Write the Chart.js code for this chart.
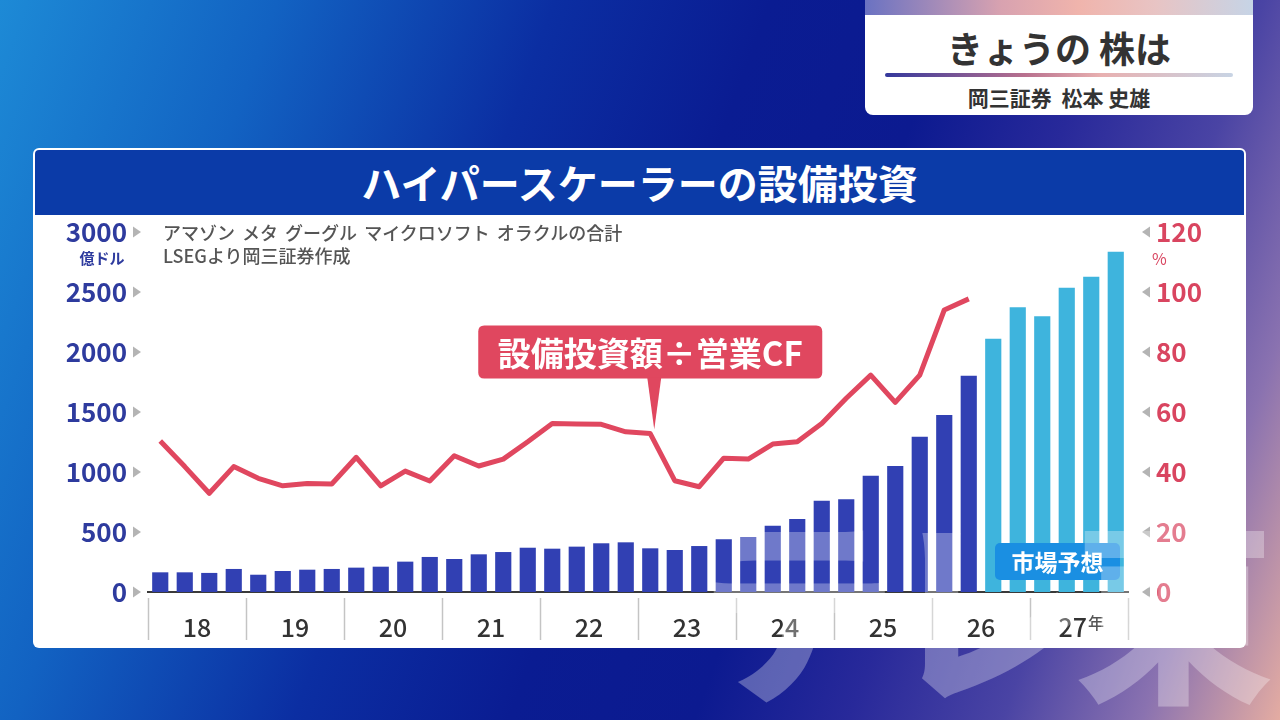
<!DOCTYPE html>
<html><head><meta charset="utf-8">
<script src="https://cdn.jsdelivr.net/npm/chart.js@4.4.1/dist/chart.umd.min.js"></script>
<style>
html,body{margin:0;padding:0;width:1280px;height:720px;overflow:hidden;font-family:"Noto Sans CJK JP","Noto Sans",sans-serif;}
.abs{position:absolute;}
#bg{left:0;top:0;width:1280px;height:720px;
 background:linear-gradient(110deg,#1d8ad6 0%,#1262c2 18%,#0b2ea2 36%,#0a1c92 50%,#0c1a90 62%,#28299a 72%,#4a44a4 82%,#8a72b0 91%,#e4aca2 100%);}
#topbox{left:865px;top:0;width:388px;height:115px;background:#fff;border-radius:0 0 8px 8px;overflow:hidden;}
#strip{left:0;top:0;width:388px;height:15px;background:linear-gradient(90deg,#6a72c2 0%,#d8a2b0 35%,#f0b4ac 55%,#e8c4c4 75%,#c6d4e6 100%);}
#toptitle{left:0;top:22px;width:388px;text-align:center;font-size:36px;font-weight:700;color:#333;line-height:50px;}
#topline{left:20px;top:73px;width:348px;height:4px;border-radius:2px;background:linear-gradient(90deg,#34389c 0%,#b8708e 40%,#e8b0b0 62%,#c8d4e4 100%);}
#topname{left:0;top:83px;width:388px;text-align:center;font-size:21px;font-weight:700;color:#333;line-height:28px;}
#panel{left:33px;top:148px;width:1213px;height:500px;background:#fff;border-radius:6px;}
#titlebar{left:35px;top:150px;width:1209px;height:65px;background:#0b3ba8;border-radius:4px 4px 0 0;color:#fff;font-size:40px;font-weight:700;text-align:center;line-height:65px;}
#chartwrap{left:33px;top:215px;width:1213px;height:433px;}
#unitL{left:76px;top:247px;width:52px;text-align:center;font-size:15px;font-weight:700;color:#2e3b9e;line-height:22px;}
#unitR{left:1152px;top:247px;font-size:16px;color:#d94560;line-height:22px;}
#sub{left:163px;top:221px;font-size:18px;color:#555;line-height:23px;font-weight:500;word-spacing:3px;}
#forecast{left:995px;top:543px;width:125px;height:37px;background:#1a8fe2;border-radius:5px;color:#fff;font-size:23px;font-weight:700;text-align:center;line-height:37px;}
#wm{left:698px;top:500px;font-size:200px;font-weight:900;color:rgba(255,255,255,0.30);letter-spacing:-12px;line-height:200px;white-space:nowrap;pointer-events:none;}
</style></head>
<body>
<div id="bg" class="abs"></div>
<div id="topbox" class="abs">
  <div id="strip" class="abs"></div>
  <div id="toptitle" class="abs">きょうの 株は</div>
  <div id="topline" class="abs"></div>
  <div id="topname" class="abs">岡三証券&nbsp;&nbsp;松本 史雄</div>
</div>
<div id="panel" class="abs"></div>
<div id="titlebar" class="abs">ハイパースケーラーの設備投資</div>
<div id="chartwrap" class="abs"><canvas id="c" width="1213" height="433" style="width:1213px;height:433px;"></canvas></div>
<div id="unitL" class="abs">億ドル</div>
<div id="unitR" class="abs">%</div>
<div id="sub" class="abs">アマゾン メタ グーグル マイクロソフト オラクルの合計<br>LSEGより岡三証券作成</div>
<div id="forecast" class="abs">市場予想</div>
<div id="wm" class="abs">テレ東</div>
<script>
const categories = [
 '18Q1','18Q2','18Q3','18Q4','19Q1','19Q2','19Q3','19Q4',
 '20Q1','20Q2','20Q3','20Q4','21Q1','21Q2','21Q3','21Q4',
 '22Q1','22Q2','22Q3','22Q4','23Q1','23Q2','23Q3','23Q4',
 '24Q1','24Q2','24Q3','24Q4','25Q1','25Q2','25Q3','25Q4',
 '26Q1','26Q2','26Q3','26Q4','27Q1','27Q2','27Q3','27Q4'];
const yearLabels = ['18','19','20','21','22','23','24','25','26','27'];
// 設備投資額（億ドル）実績
const actualCapex = [164,164,159,192,144,175,186,192,203,211,253,292,275,314,333,369,
 361,378,406,414,364,350,383,439,458,553,608,761,772,969,1050,1294,1475,1803];
// 市場予想
const forecastCapex = [2111,2372,2297,2536,2628,2836];
// 設備投資額÷営業CF（%）
const capexToOcf = [50.3,41.8,32.9,41.8,37.9,35.4,36.2,36.0,44.9,35.4,40.3,37.0,45.4,42.0,44.3,50.1,
 56.2,56.0,55.9,53.4,52.8,37.1,35.1,44.6,44.3,49.3,50.1,56.2,64.6,72.3,63.2,72.3,94.0,97.7];
const leftTickStep = 500, leftMax = 3000;
const rightTickStep = 20, rightMax = 120;
const calloutText = '設備投資額÷営業CF';
const calloutIndex = 20;

const FONT = "'Noto Sans CJK JP','Noto Sans',sans-serif";
Chart.defaults.font.family = FONT;

const nA = actualCapex.length;
const actualData = categories.map((c,i)=> i < nA ? actualCapex[i] : null);
const forecastData = categories.map((c,i)=> i >= nA ? forecastCapex[i-nA] : null);

function rr(ctx,x,y,w,h,r){ctx.beginPath();ctx.moveTo(x+r,y);ctx.lineTo(x+w-r,y);ctx.quadraticCurveTo(x+w,y,x+w,y+r);ctx.lineTo(x+w,y+h-r);ctx.quadraticCurveTo(x+w,y+h,x+w-r,y+h);ctx.lineTo(x+r,y+h);ctx.quadraticCurveTo(x,y+h,x,y+h-r);ctx.lineTo(x,y+r);ctx.quadraticCurveTo(x,y,x+r,y);ctx.closePath();}

const decor = {
  id:'decor',
  afterDraw(chart){
    const ctx = chart.ctx, xs = chart.scales.x, yl = chart.scales.yL, yr = chart.scales.yR, ca = chart.chartArea;
    ctx.save();
    const half = (xs.getPixelForValue(1) - xs.getPixelForValue(0))/2;
    ctx.strokeStyle = '#c4c4c4'; ctx.lineWidth = 1.5;
    for(let k=0;k<=yearLabels.length;k++){
      const x = Math.round(xs.getPixelForValue(k*4) - half)+0.5;
      ctx.beginPath(); ctx.moveTo(x, ca.bottom+6); ctx.lineTo(x, ca.bottom+48); ctx.stroke();
    }
    ctx.fillStyle = '#b4b4b4';
    yl.ticks.forEach(t=>{ const y = yl.getPixelForValue(t.value);
      ctx.beginPath(); ctx.moveTo(100,y-5.5); ctx.lineTo(100,y+5.5); ctx.lineTo(108,y); ctx.closePath(); ctx.fill(); });
    yr.ticks.forEach(t=>{ const y = yr.getPixelForValue(t.value);
      const x0 = ca.right + 22;
      ctx.beginPath(); ctx.moveTo(x0,y-5.5); ctx.lineTo(x0,y+5.5); ctx.lineTo(x0-8,y); ctx.closePath(); ctx.fill(); });
    const lastCenter = xs.getPixelForValue((yearLabels.length-1)*4 + 1) + half;
    ctx.fillStyle = '#555'; ctx.font = '500 16px '+FONT; ctx.textAlign='left'; ctx.textBaseline='middle';
    ctx.fillText('年', lastCenter + 9, ca.bottom + 31);
    const pt = chart.getDatasetMeta(0).data[calloutIndex];
    const px = pt.x, py = pt.y;
    const bx = px - 172, bw = 344, by = py - 108, bh = 53;
    ctx.fillStyle = '#e0475f';
    rr(ctx,bx,by,bw,bh,6); ctx.fill();
    ctx.beginPath(); ctx.moveTo(px-3, by+bh-1); ctx.lineTo(px+11, by+bh-1); ctx.lineTo(px+4, py-4); ctx.closePath(); ctx.fill();
    ctx.fillStyle = '#fff'; ctx.font = '700 33px '+FONT; ctx.textAlign='center'; ctx.textBaseline='middle';
    ctx.fillText(calloutText, bx+bw/2, by+bh/2+1);
    ctx.restore();
  }
};

new Chart(document.getElementById('c'), {
  data:{
    labels: categories,
    datasets:[
      {type:'line', label:'設備投資額÷営業CF', data:capexToOcf, yAxisID:'yR', borderColor:'#e0475f', borderWidth:5, pointRadius:0, tension:0, borderJoinStyle:'round', order:0},
      {type:'bar', label:'設備投資額', data:actualData, yAxisID:'yL', backgroundColor:'#3140b3', grouped:false, barPercentage:0.66, categoryPercentage:1, order:1},
      {type:'bar', label:'市場予想', data:forecastData, yAxisID:'yL', backgroundColor:'#3eb4dd', grouped:false, barPercentage:0.66, categoryPercentage:1, order:1}
    ]
  },
  options:{
    responsive:false, animation:false, devicePixelRatio:1,
    layout:{padding:{top:17,left:0,right:0,bottom:0}},
    plugins:{legend:{display:false}, tooltip:{enabled:false}},
    scales:{
      x:{type:'category', grid:{display:false}, border:{display:true,color:'#3a3a3a',width:2},
        ticks:{autoSkip:false, maxRotation:0, minRotation:0, labelOffset:12.25, padding:12, color:'#333', font:{size:25,weight:'500'},
          callback:(v,i)=> {
            if(i%4!==1) return '';
            const k = Math.floor(i/4);
            return k===yearLabels.length-1 ? yearLabels[k]+'\u2002' : yearLabels[k];
          }},
        afterFit(s){s.height=56; s.paddingLeft=0; s.paddingRight=0;}},
      yL:{type:'linear', position:'left', min:0, max:leftMax, grid:{display:false}, border:{display:false},
        ticks:{stepSize:leftTickStep, padding:13, color:'#2e3b9e', font:{size:26,weight:'700'}, callback:v=>String(v)},
        afterFit(s){s.width=115; s.paddingTop=0; s.paddingBottom=0;}},
      yR:{type:'linear', position:'right', min:0, max:rightMax, grid:{display:false}, border:{display:false},
        ticks:{stepSize:rightTickStep, padding:20, color:'#d94560', font:{size:26,weight:'700'}, callback:v=>String(v)},
        afterFit(s){s.width=118; s.paddingTop=0; s.paddingBottom=0;}}
    }
  },
  plugins:[decor]
});
</script>
</body></html>
